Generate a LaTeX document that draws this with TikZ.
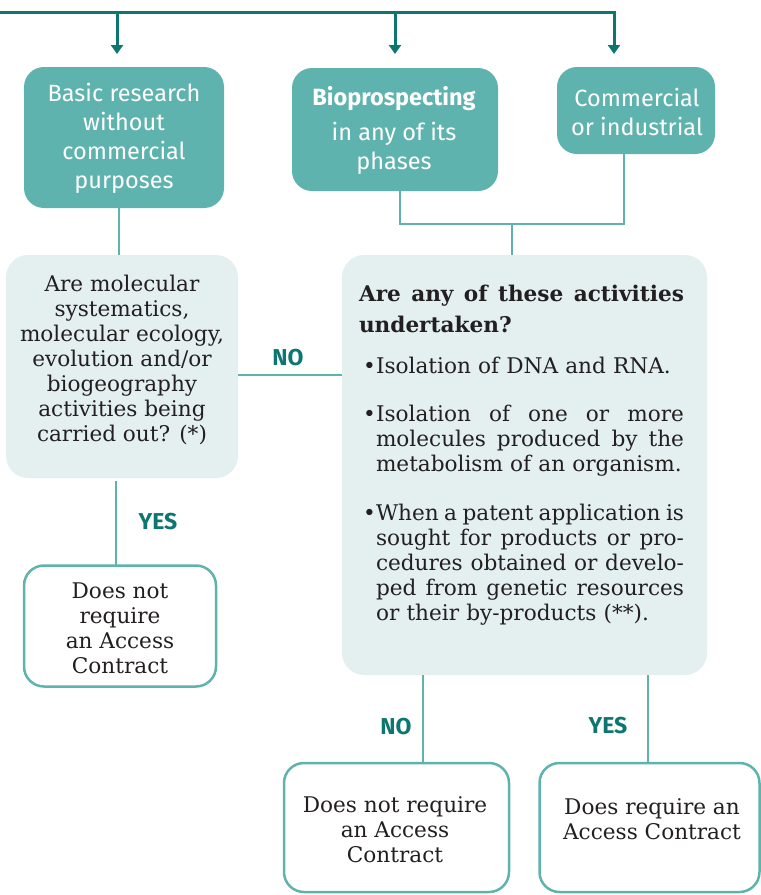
\documentclass[tikz,border=0pt]{standalone}
\usepackage{fontspec}
\setmainfont{DejaVu Serif}
\setsansfont{Fira Sans}
\usetikzlibrary{arrows.meta}

\definecolor{tealdark}{HTML}{0E7670}
\definecolor{tealmid}{HTML}{5FB3AE}
\definecolor{teallight}{HTML}{E3F0EF}
\definecolor{ink}{HTML}{231F20}

% justified line of the bullet list (interword glue restored so it can stretch)
\newcommand\jline[2][308pt]{\makebox[#1][s]{\spaceskip=0pt\xspaceskip=0pt\relax#2}}
\newcommand\bulmark{\hspace*{4pt}\makebox[13pt][l]{\textbullet}}
\newcommand\bulgap{\hspace*{17pt}}

\tikzset{
  every node/.style={inner sep=0pt, outer sep=0pt},
  hdrbox/.style={fill=tealmid, rounded corners=20pt},
  askbox/.style={fill=teallight, rounded corners=22pt},
  endbox/.style={draw=tealmid, line width=2.5pt, fill=white, rounded corners=20pt},
  feed/.style={draw=tealdark, line width=3pt, -{Triangle[width=12pt,length=9pt]}},
  link/.style={draw=tealmid, line width=2.6pt},
  hdrtxt/.style={text=white, font=\sffamily\fontsize{23.5}{29}\selectfont, align=center},
  bodytxt/.style={text=ink, font=\fontsize{21.6}{25}\selectfont, align=center},
  answer/.style={text=tealdark, font=\sffamily\bfseries\fontsize{23}{24}\selectfont},
}

\begin{document}
\begin{tikzpicture}[x=1pt, y=-1pt]
  \useasboundingbox (0,0) rectangle (761,895);

  % ---- top category boxes
  \node[hdrbox, minimum width=200pt, minimum height=141pt] (basic) at (124,137.5) {};
  \node[hdrtxt] (basicT) at (124,138.5) {Basic research\\without\\commercial\\purposes};

  \node[hdrbox, minimum width=206pt, minimum height=123pt] (bio) at (395,129.5) {};
  \node[hdrtxt] (bioT) at (394,130.5) {\textbf{Bioprospecting}\\[6pt]in any of its\\phases};

  \node[hdrbox, minimum width=158pt, minimum height=87pt] (comm) at (636,110.5) {};
  \node[hdrtxt] (commT) at (637,111.5) {Commercial\\or industrial};

  % ---- feeding bus with arrows
  \coordinate (bus) at (0,12);
  \coordinate (a1) at (117,54);
  \coordinate (a2) at (395,54);
  \coordinate (a3) at (614,54);
  \draw[feed] (bus) -| (a3);
  \draw[feed] (bus -| a1) -- (a1);
  \draw[feed] (bus -| a2) -- (a2);

  % ---- first question
  \node[askbox, minimum width=232pt, minimum height=223pt] (q1) at (122,366.5) {};
  \node[bodytxt] (q1T) at (122,359.5) {Are molecular\\systematics,\\molecular ecology,\\evolution and/or\\biogeography\\activities being\\carried out? (*)};

  % ---- second question
  \node[askbox, minimum width=365pt, minimum height=420pt] (q2) at (524.5,465) {};
  \node[text=ink, font=\fontsize{21.6}{25}\selectfont, align=left, text width=330pt, anchor=north west] (q2T) at (359,285.5)
  {\jline[325pt]{\bfseries Are any of these activities}\\[6pt]
   \textbf{undertaken?}\\[16pt]
   \bulmark Isolation of DNA and RNA.\\[23pt]
   \bulmark\jline{Isolation of one or more}\\
   \bulgap\jline{molecules produced by the}\\
   \bulgap metabolism of an organism.\\[24pt]
   \bulmark\jline{When a patent application is}\\
   \bulgap\jline{sought for products or pro-}\\
   \bulgap\jline{cedures obtained or develo-}\\
   \bulgap\jline{ped from genetic resources}\\
   \bulgap or their by-products (**).};

  % ---- outcome boxes
  \node[endbox, minimum width=192pt, minimum height=121pt] (e1) at (120,626) {};
  \node[bodytxt] (e1T) at (120,628) {Does not\\require\\an Access\\Contract};

  \node[endbox, minimum width=225pt, minimum height=129pt] (e2) at (396.5,827.5) {};
  \node[bodytxt] (e2T) at (395,829.5) {Does not require\\an Access\\Contract};

  \node[endbox, minimum width=220pt, minimum height=129pt] (e3) at (649.5,827.5) {};
  \node[bodytxt] (e3T) at (652,819.5) {Does require an\\Access Contract};

  % ---- connectors
  \draw[link] (basic.south -| 119,0) -- (q1.north -| 119,0);
  \coordinate (join) at (512,224);
  \draw[link] (bio.south -| 400,0) |- (join) -| (comm.south -| 624,0);
  \draw[link] (join) -- (q2.north -| join);
  \draw[link] (q1.east |- 0,375) -- (q2.west |- 0,375);
  \draw[link] (q1.south -| 116,0) ++(0,3) -- (e1.north -| 116,0);
  \draw[link] (q2.south -| 423,0) -- (e2.north -| 423,0);
  \draw[link] (q2.south -| 648,0) -- (e3.north -| 648,0);

  % ---- answer labels
  \node[answer] (noA) at (288,358) {NO};
  \node[answer] (yesA) at (158,522) {YES};
  \node[answer] (noB) at (396,727) {NO};
  \node[answer] (yesB) at (608,726) {YES};
\end{tikzpicture}
\end{document}
